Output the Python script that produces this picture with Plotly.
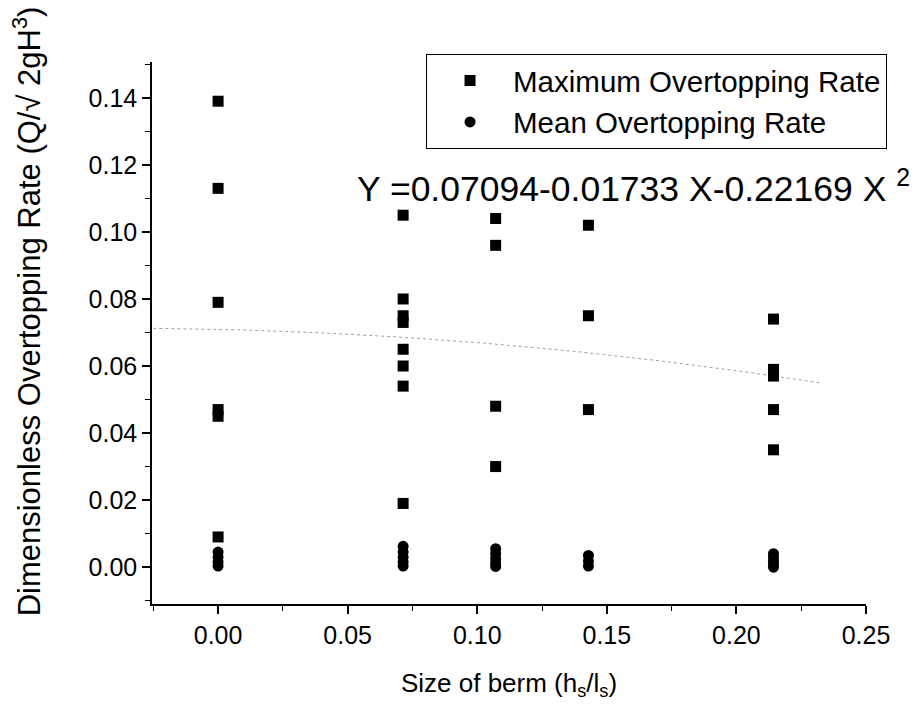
import numpy as np
import plotly.graph_objects as go

# ---- data ----
max_x = ([0.0] * 6 + [0.0714] * 8 + [0.1071] * 4 + [0.1429] * 3 + [0.2143] * 5)
max_y = [0.139, 0.113, 0.079, 0.047, 0.045, 0.009,
         0.105, 0.080, 0.075, 0.073, 0.065, 0.060, 0.054, 0.019,
         0.104, 0.096, 0.048, 0.030,
         0.102, 0.075, 0.047,
         0.074, 0.059, 0.057, 0.047, 0.035]

mean_x = ([0.0] * 4 + [0.0714] * 5 + [0.1071] * 5 + [0.1429] * 3 + [0.2143] * 5)
mean_y = [0.0045, 0.003, 0.0015, 0.0003,
          0.0062, 0.0045, 0.003, 0.0015, 0.0003,
          0.0055, 0.004, 0.0025, 0.0012, 0.0002,
          0.0035, 0.0018, 0.0003,
          0.004, 0.003, 0.002, 0.001, 0.0]

# regression curve coefficients shown on the chart
B0, B1, B2 = 0.07094, -0.01733, -0.22169
fit_x_range = [-0.025, 0.232]

x_ticks = [0.00, 0.05, 0.10, 0.15, 0.20, 0.25]
y_ticks = [0.00, 0.02, 0.04, 0.06, 0.08, 0.10, 0.12, 0.14]

FONT = "Liberation Sans, Arial, sans-serif"

fit_x = np.linspace(fit_x_range[0], fit_x_range[1], 200)
fit_y = B0 + B1 * fit_x + B2 * fit_x ** 2

fig = go.Figure()
fig.add_trace(go.Scatter(x=fit_x, y=fit_y, mode="lines",
                         line=dict(color="#a0a0a0", width=1, dash="dot"),
                         showlegend=False, hoverinfo="skip"))
fig.add_trace(go.Scatter(x=max_x, y=max_y, mode="markers",
                         name="Maximum Overtopping Rate",
                         marker=dict(symbol="square", size=11, color="black")))
fig.add_trace(go.Scatter(x=mean_x, y=mean_y, mode="markers",
                         name="Mean Overtopping Rate",
                         marker=dict(symbol="circle", size=11, color="black")))

axis_common = dict(showline=True, linecolor="black", linewidth=1.5,
                   ticks="outside", ticklen=8, tickwidth=1.5, tickcolor="black",
                   showgrid=False, zeroline=False, mirror=False,
                   tickfont=dict(family=FONT, size=25, color="black"))

fig.update_xaxes(range=[-0.0255, 0.25], tickvals=x_ticks,
                 ticktext=[f"{v:.2f}" for v in x_ticks],
                 minor=dict(dtick=0.025, tick0=0, ticks="outside", ticklen=5,
                            tickwidth=1, tickcolor="black"),
                 title=dict(text="Size of berm (h<sub>s</sub>/l<sub>s</sub>)",
                            font=dict(family=FONT, size=26, color="black"),
                            standoff=26),
                 **axis_common)
fig.update_yaxes(range=[-0.011, 0.1507], tickvals=y_ticks,
                 ticktext=[f"{v:.2f}" for v in y_ticks],
                 minor=dict(dtick=0.01, tick0=0, ticks="outside", ticklen=5,
                            tickwidth=1, tickcolor="black"),
                 **axis_common)

# y-axis title placed as rotated annotation to match the reference position
fig.add_annotation(xref="paper", yref="paper", x=-0.175, y=0.54,
                   xanchor="center", yanchor="middle", showarrow=False,
                   textangle=-90,
                   text="Dimensionless Overtopping Rate (Q/√ 2gH<sup>3</sup>)",
                   font=dict(family=FONT, size=31, color="black"))

fig.add_annotation(xref="paper", yref="paper", x=0.284, y=0.771,
                   xanchor="left", yanchor="middle", showarrow=False,
                   text="Y =0.07094-0.01733 X-0.22169 X <sup>2</sup>",
                   font=dict(family=FONT, size=35.5, color="black"))

fig.update_layout(
    width=923, height=721,
    margin=dict(l=152, r=57, t=62, b=117),
    paper_bgcolor="white", plot_bgcolor="white",
    font=dict(family=FONT, color="black"),
    legend=dict(x=0.3838, y=1.015, xanchor="left", yanchor="top",
                bordercolor="black", borderwidth=1, bgcolor="white",
                font=dict(family=FONT, size=29.5, color="black"),
                itemwidth=76, tracegroupgap=0),
)

fig.write_html("out.html")
